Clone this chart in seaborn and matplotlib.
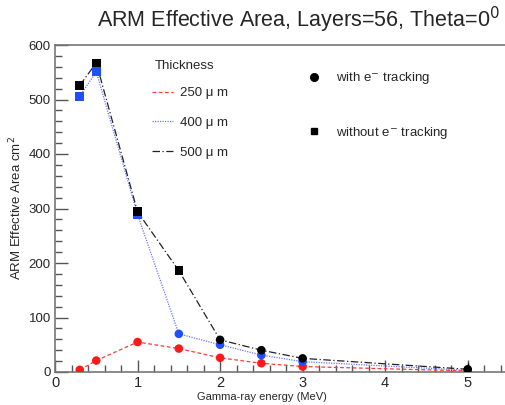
import numpy as np
import pandas as pd
import matplotlib
matplotlib.use("Agg")
import matplotlib.pyplot as plt
from matplotlib.lines import Line2D
from matplotlib.ticker import MultipleLocator
import seaborn as sns

# Gamma-ray energies (MeV)
energy = [0.3, 0.5, 1.0, 1.5, 2.0, 2.5, 3.0, 5.0]

# ARM effective area (cm^2) per silicon thickness
area_250 = [4, 21, 55, 43, 26, 16, 10, 2]
area_400 = [506, 551, 289, 70, 50, 31, 19, 3]
area_500 = [526, 567, 294, 186, 59, 40, 25, 5]

# True where the point uses electron tracking
tracked_250 = [True, True, True, True, True, True, True, True]
tracked_400 = [False, False, False, True, True, True, True, True]
tracked_500 = [False, False, False, False, True, True, True, True]

# Statistical error on the 500 um, 5 MeV point
err_500_5mev = 12

thickness_labels = ["250 \u03bc m", "400 \u03bc m", "500 \u03bc m"]
colors = ["#ff1a1a", "#1f4fff", "#000000"]
line_colors = ["#ff3a3a", "#6a78ff", "#222222"]
dashes = [(3, 2), (1, 1), (6, 2, 1, 2)]

rows = []
for lab, vals, trk in zip(thickness_labels, [area_250, area_400, area_500],
                          [tracked_250, tracked_400, tracked_500]):
    for e, v, t in zip(energy, vals, trk):
        rows.append({"energy": e, "area": v, "thickness": lab,
                     "tracking": "with" if t else "without"})
df = pd.DataFrame(rows)

sns.set_theme(style="ticks")
plt.rcParams["font.family"] = ["Liberation Sans", "DejaVu Sans"]

fig = plt.figure(figsize=(5.05, 4.05), dpi=100)
ax = fig.add_axes([55 / 505, 1 - 372 / 405, 454 / 505, 327 / 405])

for lab, col, lcol, ds in zip(thickness_labels, colors, line_colors, dashes):
    sub = df[df["thickness"] == lab]
    sns.lineplot(data=sub, x="energy", y="area", ax=ax, color=lcol,
                 linewidth=0.9, dashes=False, legend=False,
                 estimator=None, sort=False).lines[-1].set_dashes(ds)
    sns.scatterplot(data=sub, x="energy", y="area", ax=ax, color=col,
                    style="tracking", markers={"with": "o", "without": "s"},
                    style_order=["with", "without"],
                    s=38, linewidth=0, legend=False, zorder=5)

ax.errorbar([energy[-1]], [area_500[-1]], yerr=[err_500_5mev], fmt="none",
            ecolor="black", elinewidth=1, capsize=0, zorder=6)

ax.set_xlim(0, 5.5)
ax.set_ylim(0, 600)
ax.xaxis.set_major_locator(MultipleLocator(1))
ax.xaxis.set_minor_locator(MultipleLocator(0.2))
ax.yaxis.set_major_locator(MultipleLocator(100))
ax.yaxis.set_minor_locator(MultipleLocator(20))
ax.tick_params(axis="both", which="major", direction="in", length=9,
               width=1, color="#555555", labelsize=9.5, pad=3)
ax.tick_params(axis="both", which="minor", direction="in", length=5,
               width=1, color="#555555")
ax.tick_params(axis="x", labelsize=10.5)

for side in ["left", "bottom", "top"]:
    ax.spines[side].set_color("#777777")
    ax.spines[side].set_linewidth(1.2)
ax.spines["right"].set_visible(False)

ax.set_xlabel("Gamma-ray energy (MeV)", fontsize=8, labelpad=2)
ax.set_ylabel("ARM Effective Area cm$^2$", fontsize=9.5)
ax.xaxis.set_label_coords((262 - 55) / 454, -20 / 327)
ax.yaxis.set_label_coords(-31 / 454, (372 - 208) / 327)

fig.text(298 / 505, 1 - 20 / 405, "ARM Effective Area, Layers=56, Theta=0$^0$",
         ha="center", va="center", fontsize=15.5)

# Thickness legend: heading drawn as text, entries as a legend
ax.text(100 / 454, 1 - 21 / 327, "Thickness", transform=ax.transAxes,
        ha="left", va="center", fontsize=9.5)
thick_handles = [Line2D([], [], color=lc, linewidth=0.9, dashes=ds)
                 for lc, ds in zip(line_colors, dashes)]
leg1 = ax.legend(thick_handles, thickness_labels,
                 loc="upper left", bbox_to_anchor=(97 / 454, 1 - 42 / 327),
                 frameon=False, fontsize=9.5,
                 handlelength=1.6, handletextpad=0.5, labelspacing=1.33,
                 borderaxespad=0, borderpad=0)
ax.add_artist(leg1)

track_handles = [Line2D([], [], color="black", marker="o", linestyle="none",
                        markersize=5.5),
                 Line2D([], [], color="black", marker="s", linestyle="none",
                        markersize=5)]
ax.legend(track_handles, ["with e$^{-}$ tracking", "without e$^{-}$ tracking"],
          loc="upper left", bbox_to_anchor=(247 / 454, 1 - 20 / 327),
          frameon=False, fontsize=9.5, handlelength=1.0, handletextpad=1.2,
          labelspacing=2.9, borderaxespad=0)

fig.savefig("out.png", dpi=100)
